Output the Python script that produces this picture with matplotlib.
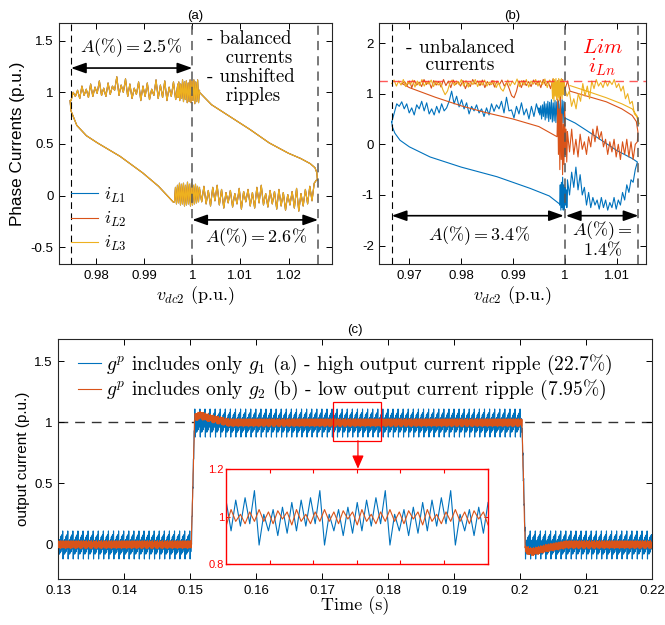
import numpy as np
import matplotlib
matplotlib.use('Agg')
import matplotlib.pyplot as plt
from matplotlib.patches import Rectangle

plt.rcParams['font.family'] = ['Liberation Sans', 'DejaVu Sans']
plt.rcParams['mathtext.fontset'] = 'cm'
plt.rcParams['xtick.direction'] = 'in'
plt.rcParams['ytick.direction'] = 'in'
plt.rcParams['xtick.top'] = True
plt.rcParams['ytick.right'] = True
plt.rcParams['axes.edgecolor'] = '#262626'
plt.rcParams['axes.linewidth'] = 0.8

C1, C2, C3 = '#0072BD', '#D95319', '#EDB120'
SERIF = 'cmr10'

# ---------------- panel (a): balanced, all three phase currents identical
a_low_v = [0.9746, 0.9748, 0.9760, 0.9780, 0.9803, 0.9850, 0.9897, 0.9930, 0.9961]
a_low_i = [0.92, 0.82, 0.68, 0.58, 0.51, 0.38, 0.22, 0.09, -0.065]
a_botd_rng = (0.9963, 1.0015)
a_botd_i = [-0.06, 0.08, -0.08, 0.10, -0.07, 0.12, -0.09, 0.11, -0.08, 0.12, -0.10, 0.10, -0.09,
            0.13, -0.08, 0.11, -0.10, 0.12, -0.09, 0.10, -0.08, 0.11, -0.07, 0.09, -0.06, 0.08]
a_bots_rng = (1.0015, 1.0258)
a_bots_i = [0.07, -0.06, 0.09, -0.08, 0.05, -0.10, 0.08, -0.05, 0.10, -0.09, 0.06, -0.12, 0.03,
            -0.07, 0.05, -0.11, 0.02, -0.08, 0.07, -0.13, 0.04, -0.06, 0.06, -0.10, 0.03, -0.12,
            0.08, -0.07, 0.10, -0.09, 0.02, -0.11, 0.05, -0.08, 0.04, -0.13, 0.06, -0.10, 0.03,
            -0.14, 0.01, -0.09, 0.04, -0.12, 0.07, -0.15, 0.02, -0.10, 0.06, -0.08, 0.09, -0.05,
            0.12, 0.15]
a_right_v = [1.0260, 1.0259, 1.0255, 1.0245, 1.0225, 1.0200, 1.0160, 1.0120, 1.0080, 1.0040, 1.0015]
a_right_i = [0.15, 0.22, 0.27, 0.31, 0.36, 0.41, 0.51, 0.64, 0.76, 0.88, 1.00]
a_topd_rng = (1.0015, 0.9970)
a_topd_i = [1.02, 0.90, 1.12, 0.91, 1.10, 0.89, 1.12, 0.92, 1.11, 0.90, 1.12, 0.91, 1.09, 0.90,
            1.11, 0.93, 1.10, 0.91, 1.12, 0.94, 1.08, 0.92, 1.10, 0.95]
a_tops_rng = (0.9970, 0.9748)
a_tops_i = [1.08, 0.93, 1.10, 0.96, 1.05, 0.92, 1.11, 0.95, 1.07, 0.94, 1.12, 0.97, 1.03, 0.93,
            1.09, 0.96, 1.06, 0.92, 1.10, 0.98, 1.04, 0.94, 1.08, 0.96, 1.13, 1.00, 1.07, 0.97,
            1.15, 1.02, 1.06, 0.98, 1.09, 0.96, 1.04, 0.97, 1.11, 0.99, 1.05, 0.96, 1.08, 0.95,
            1.03, 0.97, 1.06, 0.94, 1.02, 0.96, 1.00, 0.92]

# ---------------- panel (b): unbalanced
# iL1 (blue)
b1_low_v = [0.9666, 0.9667, 0.9672, 0.9682, 0.9700, 0.9740, 0.9800, 0.9869, 0.9933, 0.9970, 0.9990]
b1_low_i = [0.44, 0.35, 0.22, 0.08, -0.05, -0.25, -0.45, -0.64, -0.87, -1.02, -1.18]
b1_botd_rng = (0.9990, 1.0005)
b1_botd_i = [-1.2, -0.8, -1.3, -0.75, -1.25, -0.65, -1.3, -0.8, -1.28, -0.85, -1.2, -0.9, -1.25, -1.0]
b1_bots_rng = (1.0005, 1.0140)
b1_bots_i = [-0.7, -1.0, -0.55, -0.85, -0.45, -0.9, -0.6, -1.0, -0.85, -1.2, -0.95, -1.25, -1.05,
             -1.2, -1.1, -1.28, -1.05, -1.25, -1.1, -1.3, -1.15, -1.25, -1.05, -1.28, -1.1, -1.2,
             -0.95, -1.1, -0.8, -0.95, -0.7, -0.75, -0.5, -0.35]
b1_right_v = [1.0140, 1.0130, 1.0100, 1.0050, 1.0020, 1.0000]
b1_right_i = [-0.35, -0.28, -0.12, 0.22, 0.42, 0.52]
b1_topd_rng = (1.0000, 0.9950)
b1_topd_i = [0.50, 0.85, 0.42, 0.88, 0.45, 0.80, 0.41, 0.86, 0.48, 0.84, 0.43, 0.87, 0.46, 0.82,
             0.44, 0.88, 0.50, 0.83, 0.45, 0.85, 0.52, 0.80, 0.48, 0.84, 0.55, 0.78, 0.50, 0.76,
             0.58, 0.72]
b1_tops_rng = (0.9950, 0.9666)
b1_tops_i = [0.62, 0.80, 0.55, 0.75, 0.50, 0.70, 0.58, 0.82, 0.60, 0.75, 0.52, 0.68, 0.66, 0.93,
             0.62, 0.85, 0.70, 0.78, 0.65, 0.80, 0.58, 0.72, 0.55, 0.70, 0.62, 0.78, 0.66, 0.75,
             0.60, 0.82, 0.70, 0.88, 0.74, 0.95, 0.80, 1.05, 0.85, 0.72, 0.66, 0.80, 0.62, 0.75,
             0.58, 0.70, 0.60, 0.82, 0.66, 0.85, 0.70, 0.78, 0.58, 0.72, 0.62, 0.80, 0.70, 0.84,
             0.75, 0.80, 0.62, 0.44]
# iL2 (orange)
b2_down_v = [0.9686, 0.9700, 0.9750, 0.9800, 0.9850, 0.9900, 0.9950, 0.9985]
b2_down_i = [1.20, 1.12, 0.93, 0.76, 0.62, 0.50, 0.35, 0.15]
b2_midd_rng = (0.9985, 1.0005)
b2_midd_i = [0.15, 0.9, -0.2, 0.7, -0.5, 0.95, -0.3, 0.6, -0.6, 0.4, -0.4, 0.8, -0.2, 0.3, -0.35, 0.1]
b2_mids_rng = (1.0005, 1.0140)
b2_mids_i = [0.25, -0.15, 0.3, -0.2, 0.1, -0.25, 0.2, -0.1, 0.05, -0.2, 0.15, -0.05, 0.3, 0.05,
             0.36, 0.1, 0.25, -0.05, 0.1, -0.2, 0.05, -0.15, 0.1, -0.25, 0.0, -0.3, 0.05, -0.2,
             0.1, -0.25, 0.05, -0.3, 0.0, 0.05]
b2_right_v = [1.0140, 1.0141, 1.0138, 1.0130, 1.0110, 1.0080, 1.0040, 1.0010]
b2_right_i = [0.05, 0.25, 0.45, 0.57, 0.70, 0.84, 0.96, 1.05]
b2_top_rng = (1.0010, 0.9686)
b2_top_i = [1.05, 1.25, 1.10, 1.28, 1.12, 1.26, 1.15, 1.29, 1.10, 1.24, 1.16, 1.28, 1.12, 1.25,
            1.18, 1.27, 1.14, 1.24, 1.16, 1.26, 1.12, 1.25, 1.05, 0.92, 0.96, 1.10, 1.22, 1.15,
            1.27, 1.18, 1.25, 1.13, 1.26, 1.17, 1.24, 1.12, 1.27, 1.16, 1.25, 1.19, 1.28, 1.14,
            1.22, 1.10, 1.26, 1.15, 1.24, 1.18, 1.27, 1.12, 1.25, 1.16, 1.28, 1.13, 1.24, 1.17,
            1.26, 1.11, 1.25, 1.18, 1.28, 1.14, 1.23, 1.17, 1.26, 1.12, 1.25, 1.16, 1.24, 1.20]
# iL3 (yellow)
b3_top_rng = (0.9666, 0.9975)
b3_top_i = [1.20, 1.27, 1.15, 1.25, 1.17, 1.28, 1.14, 1.24, 1.18, 1.27, 1.13, 1.25, 1.16, 1.28,
            1.15, 1.24, 1.19, 1.27, 1.14, 1.25, 1.17, 1.22, 1.08, 0.98, 1.05, 1.20, 1.27, 1.16,
            1.25, 1.18, 1.28, 1.15, 1.26, 1.13, 1.24, 1.18, 1.28, 1.14, 1.25, 1.17, 1.27, 1.15,
            1.23, 1.18, 1.26, 1.12, 1.22, 1.10, 1.05, 1.16, 1.27, 1.15, 1.25, 1.18, 1.29, 1.14,
            1.26, 1.17, 1.28, 1.13, 1.25, 1.19, 1.28, 1.15, 1.26, 1.18, 1.29, 1.12, 1.27, 1.20]
b3_dense_rng = (0.9975, 1.0000)
b3_dense_i = [1.20, 0.90, 1.30, 0.85, 1.28, 0.95, 1.30, 0.88, 1.25, 0.92, 1.30, 0.86, 1.28, 0.95,
              1.30, 0.90, 1.26, 0.98, 1.22, 1.10]
b3_rs_rng = (1.0000, 1.0143)
b3_rs_i = [1.1, 0.95, 1.05, 0.75, 0.9, 0.7, 1.0, 0.85, 1.2, 0.95, 1.15, 0.9, 1.25, 1.1, 1.28, 1.15,
           1.22, 1.12, 1.26, 1.15, 1.25, 1.18, 1.28, 1.12, 1.2, 1.05, 1.15, 0.9, 1.0, 0.8, 0.85,
           0.6, 0.55, 0.4]
b3_right_v = [1.0143, 1.0140, 1.0130, 1.0110, 1.0080, 1.0040, 1.0010]
b3_right_i = [0.40, 0.55, 0.70, 0.80, 0.92, 1.06, 1.16]
b_lim = 1.25

# ---------------- panel (c): output current
# one ripple envelope period, offsets from the mean level
c_period = 0.00077
c_blue_rip = [-0.12, 0.01, -0.06, 0.03, -0.08, 0.04, -0.07, 0.06, -0.06, 0.07, -0.04, 0.08, -0.03, 0.11]
c_orange_rip = [0.03, -0.02, 0.02, -0.03, 0.025, -0.01, 0.02, -0.035, 0.03, -0.02, 0.01, -0.03, 0.02, -0.02]
c_blue_lvl_t = [0.13, 0.1502, 0.1507, 0.2003, 0.2008, 0.22]
c_blue_lvl = [0.0, 0.0, 1.0, 1.0, 0.0, 0.0]
c_or_lvl_t = [0.13, 0.1502, 0.1507, 0.1515, 0.1535, 0.1560, 0.2003, 0.2008, 0.2018, 0.2040, 0.2070, 0.22]
c_or_lvl = [0.0, 0.0, 1.04, 1.06, 1.03, 1.0, 1.0, -0.04, -0.06, -0.03, 0.0, 0.0]
c_zoom_box = (0.1717, 0.85, 0.0073, 0.32)


def ripple(rng, vals):
    return np.linspace(rng[0], rng[1], len(vals)), np.array(vals)


def path(*parts):
    xs, ys = [], []
    for x, y in parts:
        xs.append(np.asarray(x)); ys.append(np.asarray(y))
    return np.concatenate(xs), np.concatenate(ys)


def fmt(v):
    return ('%g' % v)


a_v, a_i = path((a_low_v, a_low_i), ripple(a_botd_rng, a_botd_i), ripple(a_bots_rng, a_bots_i),
                (a_right_v, a_right_i), ripple(a_topd_rng, a_topd_i), ripple(a_tops_rng, a_tops_i))
b1_v, b1_i = path((b1_low_v, b1_low_i), ripple(b1_botd_rng, b1_botd_i), ripple(b1_bots_rng, b1_bots_i),
                  (b1_right_v, b1_right_i), ripple(b1_topd_rng, b1_topd_i), ripple(b1_tops_rng, b1_tops_i))
b2_v, b2_i = path((b2_down_v, b2_down_i), ripple(b2_midd_rng, b2_midd_i), ripple(b2_mids_rng, b2_mids_i),
                  (b2_right_v, b2_right_i), ripple(b2_top_rng, b2_top_i))
b3_v, b3_i = path(ripple(b3_top_rng, b3_top_i), ripple(b3_dense_rng, b3_dense_i),
                  ripple(b3_rs_rng, b3_rs_i), (b3_right_v, b3_right_i))

dt = c_period / len(c_blue_rip)
t = 0.13 + dt * np.arange(int(round(0.09 / dt)) + 1)
blue_c = np.interp(t, c_blue_lvl_t, c_blue_lvl) + np.resize(c_blue_rip, len(t))
orange_c = np.interp(t, c_or_lvl_t, c_or_lvl) + np.resize(c_orange_rip, len(t))

fig = plt.figure(figsize=(6.65, 6.25), dpi=100)
axa = fig.add_axes([0.0887, 0.5771, 0.411, 0.3856])
axb = fig.add_axes([0.5704, 0.5771, 0.401, 0.3856])
axc = fig.add_axes([0.0872, 0.0736, 0.8932, 0.384])
axi = fig.add_axes([0.3398, 0.0976, 0.3935, 0.1515])

# ---- (a)
lw = 0.8
axa.plot(a_v, a_i, color=C1, lw=lw, label=r'$i_{L1}$')
axa.plot(a_v, a_i, color=C2, lw=lw, label=r'$i_{L2}$')
axa.plot(a_v, a_i, color=C3, lw=lw, label=r'$i_{L3}$')
axa.axvline(0.9748, color='k', lw=0.8, ls=(0, (6, 4)))
axa.axvline(1.0, color='#555555', lw=1.1, ls=(0, (6, 4)))
axa.axvline(1.02615, color='#555555', lw=1.1, ls=(0, (6, 4)))
aprops = dict(arrowstyle='<|-|>,head_length=0.9,head_width=0.32', color='k', lw=1.2,
              shrinkA=0, shrinkB=0)
axa.annotate('', xy=(0.9748, 1.235), xytext=(1.0, 1.235), arrowprops=aprops)
axa.annotate('', xy=(1.0, -0.235), xytext=(1.02615, -0.235), arrowprops=aprops)
axa.text(0.9873, 1.43, r'$A(\%) = 2.5\%$', ha='center', va='center', fontsize=13)
axa.text(1.0132, -0.41, r'$A(\%) = 2.6\%$', ha='center', va='center', fontsize=13)
axa.text(1.0031, 1.60, '- balanced\n   currents\n- unshifted\n   ripples', ha='left', va='top',
         fontsize=13.5, family=SERIF, linespacing=1.06)
axa.set_xlim(0.9723, 1.0291)
axa.set_ylim(-0.665, 1.668)
xt = [0.98, 0.99, 1.0, 1.01, 1.02]
axa.set_xticks(xt, [fmt(v) for v in xt])
yt = [-0.5, 0, 0.5, 1, 1.5]
axa.set_yticks(yt, [fmt(v) for v in yt])
axa.set_xlabel(r'$v_{dc2}$ (p.u.)', family=SERIF, fontsize=13, labelpad=2)
axa.set_ylabel('Phase Currents (p.u.)', fontsize=12.3, labelpad=4)
axa.set_title('(a)', fontsize=9.5, pad=3)
axa.legend(loc='lower left', bbox_to_anchor=(0.005, 0.0), frameon=False, fontsize=13,
           handlelength=1.5, handletextpad=0.3, labelspacing=0.3, borderaxespad=0.2)

# ---- (b)
axb.plot(b1_v, b1_i, color=C1, lw=lw)
axb.plot(b2_v, b2_i, color=C2, lw=lw)
axb.plot(b3_v, b3_i, color=C3, lw=lw)
axb.axhline(b_lim, color='#FF3030', lw=1.0, ls=(0, (6, 4)), alpha=0.8)
axb.axvline(0.9666, color='k', lw=0.8, ls=(0, (6, 4)))
axb.axvline(1.0, color='#555555', lw=1.1, ls=(0, (6, 4)))
axb.axvline(1.0142, color='#555555', lw=1.1, ls=(0, (6, 4)))
axb.annotate('', xy=(0.9666, -1.41), xytext=(0.9998, -1.41), arrowprops=aprops)
axb.annotate('', xy=(1.0002, -1.41), xytext=(1.0142, -1.41), arrowprops=aprops)
axb.text(0.9835, -1.80, r'$A(\%) = 3.4\%$', ha='center', va='center', fontsize=13)
axb.text(1.0072, -1.70, r'$A(\%) =$', ha='center', va='center', fontsize=13)
axb.text(1.0072, -2.08, r'$1.4\%$', ha='center', va='center', fontsize=13)
axb.text(0.9693, 2.08, '- unbalanced\n   currents', ha='left', va='top', fontsize=14,
         family=SERIF, linespacing=0.95)
axb.text(1.0072, 1.92, r'$Lim$', color='red', ha='center', va='center', fontsize=15)
axb.text(1.0072, 1.52, r'$i_{Ln}$', color='red', ha='center', va='center', fontsize=15)
axb.set_xlim(0.9642, 1.01566)
axb.set_ylim(-2.37, 2.39)
xt = [0.97, 0.98, 0.99, 1.0, 1.01]
axb.set_xticks(xt, [fmt(v) for v in xt])
yt = [-2, -1, 0, 1, 2]
axb.set_yticks(yt, [fmt(v) for v in yt])
axb.set_xlabel(r'$v_{dc2}$ (p.u.)', family=SERIF, fontsize=13, labelpad=2)
axb.set_title('(b)', fontsize=9.5, pad=3)

for ax in (axa, axb):
    ax.tick_params(labelsize=9.5, length=4, width=0.7, pad=4)

# ---- (c)
axc.plot(t, blue_c, color=C1, lw=0.8, zorder=2,
         label=r'$g^p$ includes only $g_1$ (a) - high output current ripple (22.7%)')
axc.plot(t, orange_c, color=C2, lw=0.8, zorder=3,
         label=r'$g^p$ includes only $g_2$ (b) - low output current ripple (7.95%)')
axc.axhline(1.0, color='#333333', lw=1.0, ls=(0, (7, 5)), zorder=1)
axc.add_patch(Rectangle(c_zoom_box[:2], c_zoom_box[2], c_zoom_box[3], fill=False,
                        edgecolor='red', lw=0.9, zorder=5))
axc.annotate('', xy=(0.17545, 0.62), xytext=(0.17545, c_zoom_box[1]),
             arrowprops=dict(arrowstyle='-|>,head_length=0.8,head_width=0.35', color='red',
                             lw=0.9, shrinkA=0, shrinkB=0))
axc.set_xlim(0.13, 0.22)
axc.set_ylim(-0.284, 1.684)
xt = [0.13, 0.14, 0.15, 0.16, 0.17, 0.18, 0.19, 0.2, 0.21, 0.22]
axc.set_xticks(xt, [fmt(v) for v in xt])
yt = [0, 0.5, 1, 1.5]
axc.set_yticks(yt, [fmt(v) for v in yt])
axc.tick_params(labelsize=9.5, length=4, width=0.7, pad=4)
axc.set_xlabel('Time (s)', family=SERIF, fontsize=13, labelpad=0)
axc.set_ylabel('output current (p.u.)', fontsize=11, labelpad=3)
axc.set_title('(c)', fontsize=9.5, pad=4)
axc.legend(loc='upper left', bbox_to_anchor=(0.01, 1.0), frameon=False,
           prop=dict(family=SERIF, size=14),
           handlelength=1.2, handletextpad=0.25, labelspacing=0.08, borderaxespad=0.3)

# ---- inset
i_lo = 0.1735
axi.plot(t, blue_c, color=C1, lw=0.8)
axi.plot(t, orange_c, color=C2, lw=0.8)
axi.set_xlim(i_lo, i_lo + 4 * c_period)
axi.set_ylim(0.8, 1.2)
axi.set_xticks(np.linspace(i_lo, i_lo + 4 * c_period, 7)[1:-1], [])
axi.set_yticks([0.8, 1.0, 1.2], ['0.8', '1', '1.2'])
axi.tick_params(labelsize=8, length=3, colors='red', labelcolor='red', pad=1.5)
axi.set_facecolor('white')
for s in axi.spines.values():
    s.set_edgecolor('red')
    s.set_linewidth(1.0)

fig.savefig('out.png', dpi=100)
